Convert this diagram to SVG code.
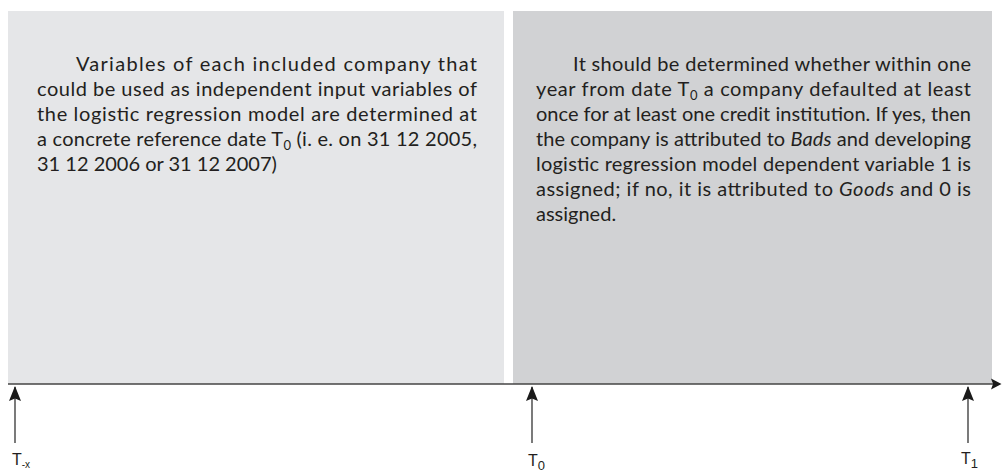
<svg xmlns="http://www.w3.org/2000/svg" width="1002" height="472" viewBox="0 0 1002 472">
<style>
.body{font-family:Lato,"Liberation Sans",sans-serif;font-size:20px;fill:#231f20}
.lbl{font-family:"Liberation Sans",Arial,sans-serif;font-size:16px;fill:#231f20}
.tick{stroke:#333;stroke-width:1.3;fill:none}
</style>
<defs>
<marker id="ah" viewBox="0 0 15 12" refX="14" refY="6" markerWidth="15" markerHeight="12" markerUnits="userSpaceOnUse" orient="auto">
<path d="M15,6 L0,0 L2.5,6 L0,12 Z" fill="#1a1a1a"/>
</marker>
</defs>
<rect width="1002" height="472" fill="#fff"/>
<g id="period-before">
<rect x="8" y="11" width="496" height="373" fill="#e5e6e8"/>
<text class="body" x="76" y="71" textLength="401" lengthAdjust="spacing">Variables of each included company that</text>
<text class="body" x="37" y="96" textLength="440" lengthAdjust="spacing">could be used as independent input variables of</text>
<text class="body" x="37" y="121" textLength="440" lengthAdjust="spacing">the logistic regression model are determined at</text>
<text class="body" x="37" y="146" textLength="440" lengthAdjust="spacing">a concrete reference date T<tspan dy="4" font-size="13">0</tspan><tspan dy="-4"> (i. e. on 31 12 2005,</tspan></text>
<text class="body" x="37" y="171">31 12 2006 or 31 12 2007)</text>
</g>
<g id="period-after">
<rect x="513" y="11" width="479" height="373" fill="#d1d2d4"/>
<text class="body" x="573" y="71" textLength="398" lengthAdjust="spacing">It should be determined whether within one</text>
<text class="body" x="536" y="96" textLength="435" lengthAdjust="spacing">year from date T<tspan dy="4" font-size="13">0</tspan><tspan dy="-4"> a company defaulted at least</tspan></text>
<text class="body" x="536" y="121" textLength="435" lengthAdjust="spacing">once for at least one credit institution. If yes, then</text>
<text class="body" x="536" y="146" textLength="435" lengthAdjust="spacing">the company is attributed to <tspan font-style="italic">Bads</tspan> and developing</text>
<text class="body" x="536" y="171" textLength="435" lengthAdjust="spacing">logistic regression model dependent variable 1 is</text>
<text class="body" x="536" y="196" textLength="435" lengthAdjust="spacing">assigned; if no, it is attributed to  <tspan font-style="italic">Goods</tspan> and 0 is</text>
<text class="body" x="536" y="221">assigned.</text>
</g>
<g id="connectors">
<line x1="8" y1="384" x2="994" y2="384" stroke="#444" stroke-width="1.6"/>
<path d="M1001.5,384 L991,378.5 L993,384 L991,389.5 Z" fill="#1a1a1a"/>
<line class="tick" x1="15" y1="443" x2="15" y2="387" marker-end="url(#ah)"/>
<line class="tick" x1="532" y1="443" x2="532" y2="387" marker-end="url(#ah)"/>
<line class="tick" x1="968" y1="443" x2="968" y2="387" marker-end="url(#ah)"/>
</g>
<g id="label-tminus">
<text class="lbl" x="12" y="465">T<tspan dy="3" font-size="10">-x</tspan></text>
</g>
<g id="label-t0">
<text class="lbl" x="528" y="466">T<tspan dy="4" font-size="13">0</tspan></text>
</g>
<g id="label-t1">
<text class="lbl" x="961" y="464">T<tspan dy="4" font-size="13">1</tspan></text>
</g>
</svg>
